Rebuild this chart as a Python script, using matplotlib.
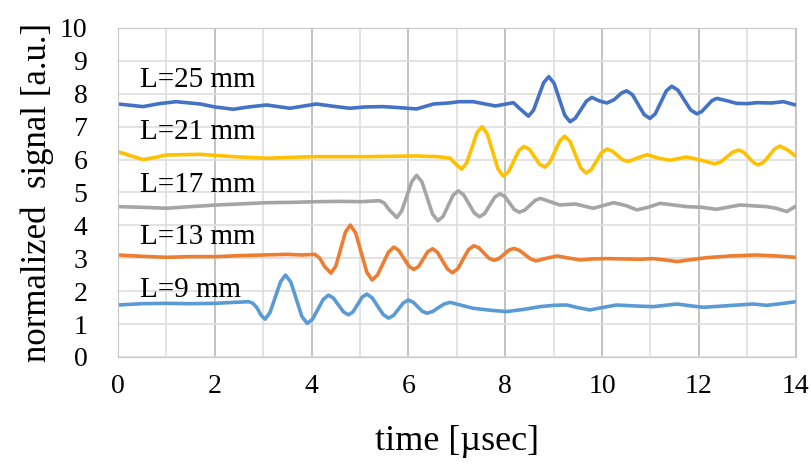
import matplotlib
matplotlib.use('Agg')
import matplotlib.pyplot as plt
from matplotlib.ticker import MultipleLocator

plt.rcParams['font.family'] = ['Liberation Serif', 'DejaVu Serif']

# L = 9 mm
t9 = [0, 0.5, 1.0, 1.5, 2.0, 2.4, 2.7, 2.78, 2.87, 2.96, 3.04,
      3.14, 3.25, 3.36, 3.46, 3.57, 3.685, 3.80, 3.91,
      4.02, 4.13, 4.24, 4.35, 4.45, 4.555, 4.66, 4.76,
      4.855, 4.95, 5.045, 5.14, 5.25, 5.365, 5.48, 5.59,
      5.69, 5.795, 5.9, 6.0, 6.095, 6.19, 6.285, 6.38,
      6.5, 6.62, 6.74, 6.86, 7.1, 7.34, 7.7, 8.03, 8.4, 8.72, 9.0, 9.27,
      9.5, 9.75, 10.0, 10.3, 10.7, 11.06, 11.3, 11.55, 11.8, 12.1, 12.6,
      13.13, 13.4, 13.7, 14.0]
v9 = [1.58, 1.62, 1.63, 1.62, 1.63, 1.66, 1.68, 1.64, 1.50, 1.26, 1.15,
      1.35, 1.82, 2.29, 2.49, 2.28, 1.755, 1.23, 1.02,
      1.15, 1.45, 1.75, 1.88, 1.79, 1.58, 1.37, 1.28,
      1.37, 1.595, 1.82, 1.91, 1.80, 1.545, 1.29, 1.18,
      1.26, 1.455, 1.65, 1.73, 1.67, 1.53, 1.39, 1.33,
      1.38, 1.50, 1.61, 1.66, 1.57, 1.48, 1.42, 1.38, 1.45, 1.53, 1.57, 1.58,
      1.50, 1.43, 1.50, 1.58, 1.55, 1.53, 1.57, 1.61, 1.56, 1.51, 1.56,
      1.61, 1.57, 1.62, 1.68]

# L = 13 mm
t13 = [0, 0.5, 1.0, 1.5, 2.04, 2.5, 3.0, 3.5, 3.8, 4.07, 4.17, 4.27, 4.40,
       4.50, 4.60, 4.70, 4.80, 4.91, 5.025, 5.14, 5.25,
       5.36, 5.475, 5.59, 5.70, 5.80, 5.905, 6.01, 6.11,
       6.21, 6.305, 6.40, 6.50, 6.60, 6.705, 6.81, 6.91,
       7.02, 7.13, 7.24, 7.35, 7.455, 7.56, 7.665, 7.77,
       7.87, 7.975, 8.08, 8.18, 8.295, 8.41, 8.525, 8.64,
       8.85, 9.07, 9.3, 9.55, 9.8, 10.1, 10.45, 10.78, 11.05, 11.3, 11.55,
       11.85, 12.17, 12.65, 13.2, 13.6, 14.0]
v13 = [3.10, 3.06, 3.03, 3.05, 3.05, 3.08, 3.10, 3.12, 3.10, 3.12, 3.00, 2.75, 2.55,
       2.76, 3.28, 3.80, 4.01, 3.77, 3.175, 2.58, 2.34,
       2.49, 2.84, 3.19, 3.34, 3.24, 3.00, 2.76, 2.66,
       2.75, 2.975, 3.20, 3.29, 3.18, 2.925, 2.67, 2.56,
       2.68, 2.97, 3.26, 3.38, 3.32, 3.16, 3.00, 2.94,
       2.99, 3.12, 3.25, 3.30, 3.24, 3.11, 2.98, 2.92,
       3.00, 3.07, 3.01, 2.95, 2.98, 2.99, 2.98, 2.97, 2.99, 2.95, 2.90,
       2.96, 3.02, 3.07, 3.10, 3.07, 3.03]

# L = 17 mm
t17 = [0, 0.5, 1.0, 1.5, 2.04, 2.5, 3.07, 3.6, 4.1, 4.6, 5.0, 5.4, 5.5, 5.6, 5.76,
       5.86, 5.965, 6.07, 6.17, 6.28, 6.39, 6.50, 6.61,
       6.715, 6.82, 6.925, 7.03, 7.14, 7.25, 7.36, 7.47,
       7.575, 7.68, 7.785, 7.89, 7.99, 8.09, 8.19, 8.29,
       8.40, 8.51, 8.62, 8.73, 8.93, 9.13, 9.45, 9.82, 10.24, 10.5, 10.72,
       10.95, 11.2, 11.75, 12.05, 12.37, 12.85, 13.4, 13.6, 13.82, 14.0]
v17 = [4.57, 4.55, 4.52, 4.57, 4.62, 4.65, 4.69, 4.70, 4.72, 4.73, 4.72, 4.75, 4.68, 4.48, 4.24,
       4.43, 4.88, 5.33, 5.52, 5.32, 4.83, 4.34, 4.14,
       4.27, 4.595, 4.92, 5.05, 4.93, 4.655, 4.38, 4.26,
       4.36, 4.61, 4.86, 4.96, 4.88, 4.68, 4.48, 4.40,
       4.46, 4.61, 4.76, 4.82, 4.72, 4.62, 4.65, 4.52, 4.69, 4.60, 4.47,
       4.55, 4.67, 4.57, 4.55, 4.49, 4.62, 4.57, 4.52, 4.42, 4.58]

# L = 21 mm
t21 = [0, 0.25, 0.52, 0.75, 1.0, 1.7, 2.38, 3.07, 3.6, 4.1, 5.14, 6.17, 6.6, 6.86, 6.95, 7.1,
       7.205, 7.31, 7.415, 7.52, 7.63, 7.74, 7.85, 7.96,
       8.07, 8.175, 8.28, 8.39, 8.50, 8.605, 8.71, 8.82,
       8.92, 9.025, 9.13, 9.23, 9.34, 9.45, 9.56, 9.67,
       9.78, 9.885, 9.99, 10.1, 10.21, 10.315, 10.42, 10.53,
       10.73, 10.93, 11.15, 11.4, 11.75, 12.05, 12.33,
       12.455, 12.58, 12.705, 12.83, 12.93, 13.03, 13.13, 13.23,
       13.34, 13.455, 13.57, 13.68, 13.85, 14.0]
v21 = [6.24, 6.12, 6.00, 6.06, 6.14, 6.16, 6.09, 6.04, 6.07, 6.09, 6.09, 6.11, 6.09, 6.04, 5.90, 5.71,
       5.90, 6.355, 6.81, 7.00, 6.78, 6.25, 5.72, 5.50,
       5.63, 5.95, 6.27, 6.40, 6.31, 6.085, 5.86, 5.77,
       5.91, 6.24, 6.57, 6.71, 6.55, 6.15, 5.75, 5.59,
       5.70, 5.955, 6.21, 6.32, 6.26, 6.13, 6.00, 5.94,
       6.045, 6.15, 6.05, 5.98, 6.08, 5.98, 5.87,
       5.93, 6.08, 6.23, 6.29, 6.22, 6.065, 5.91, 5.84,
       5.92, 6.125, 6.33, 6.41, 6.28, 6.10]

# L = 25 mm
t25 = [0, 0.52, 0.85, 1.2, 1.7, 2.0, 2.38, 2.7, 3.07, 3.55, 4.1, 4.45, 4.79, 5.1, 5.48,
       5.8, 6.17, 6.52, 6.83, 7.05, 7.34, 7.55, 7.8, 8.17, 8.3, 8.48,
       8.585, 8.69, 8.795, 8.90, 9.01, 9.12, 9.23, 9.34,
       9.45, 9.565, 9.68, 9.79, 9.95, 10.1, 10.25, 10.4, 10.51,
       10.63, 10.75, 10.87, 10.99, 11.10, 11.215, 11.33, 11.44,
       11.57, 11.70, 11.83, 11.96, 12.06, 12.165, 12.27, 12.37,
       12.55, 12.78, 13.0, 13.2, 13.5, 13.75, 14.0]
v25 = [7.69, 7.61, 7.70, 7.76, 7.69, 7.60, 7.53, 7.60, 7.66, 7.56, 7.69, 7.62, 7.56, 7.60, 7.61,
       7.58, 7.54, 7.69, 7.72, 7.76, 7.76, 7.70, 7.63, 7.73, 7.55, 7.32,
       7.50, 7.92, 8.34, 8.52, 8.32, 7.835, 7.35, 7.15,
       7.26, 7.52, 7.78, 7.89, 7.78, 7.72, 7.82, 8.02, 8.09,
       7.97, 7.67, 7.37, 7.25, 7.39, 7.74, 8.09, 8.23,
       8.11, 7.81, 7.51, 7.39, 7.46, 7.625, 7.79, 7.86,
       7.80, 7.71, 7.70, 7.73, 7.72, 7.76, 7.66]

series = [
    (t25, v25, '#4472C4', 'L=25 mm', 8.42),
    (t21, v21, '#FFC000', 'L=21 mm', 6.84),
    (t17, v17, '#A5A5A5', 'L=17 mm', 5.23),
    (t13, v13, '#ED7D31', 'L=13 mm', 3.65),
    (t9, v9, '#5B9BD5', 'L=9 mm', 2.04),
]

fig = plt.figure(figsize=(8.11, 4.65), dpi=100)
ax = fig.add_axes([0.1455, 0.2323, 0.8355, 0.7075])

for t, v, c, lab, ly in series:
    ax.plot(t, v, color=c, lw=2.6, solid_joinstyle='round', solid_capstyle='round')
    ax.text(0.45, ly, lab, fontsize=21, va='center', ha='left')

ax.set_xlim(0, 14)
ax.set_ylim(0, 10)
ax.xaxis.set_major_locator(MultipleLocator(2))
ax.xaxis.set_minor_locator(MultipleLocator(1))
ax.yaxis.set_major_locator(MultipleLocator(1))
ax.grid(True, which='major', axis='x', color='#B8B8B8', lw=1.2)
ax.grid(True, which='minor', axis='x', color='#DEDEDE', lw=1.2)
ax.grid(True, which='major', axis='y', color='#DEDEDE', lw=1.2)
ax.set_axisbelow(True)
ax.tick_params(which='both', length=0, labelsize=20)
ax.tick_params(axis='y', pad=22)
ax.tick_params(axis='x', pad=12)
for s in ax.spines.values():
    s.set_color('#C8C8C8')

ax.set_xlabel('time [\u00b5sec]', fontsize=26, labelpad=19)
ax.set_ylabel('normalized  signal [a.u.]', fontsize=25, labelpad=4)

fig.savefig('out.png', dpi=100)
